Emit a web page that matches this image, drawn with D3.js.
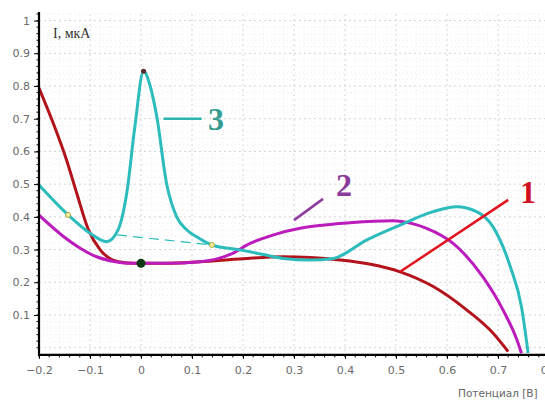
<!DOCTYPE html>
<html>
<head>
<meta charset="utf-8">
<script src="https://cdn.jsdelivr.net/npm/d3@7"></script>
<style>
  body { margin: 0; background: #fff; }
  svg { display: block; }
</style>
</head>
<body>
<script>
// curve 1 (dark red)
var x1 = [-0.2, -0.172, -0.146, -0.126, -0.103, -0.08, -0.055, -0.03, 0, 0.05, 0.116, 0.2, 0.278, 0.39, 0.45, 0.508, 0.573, 0.639, 0.69, 0.72]
var y1 = [0.794, 0.686, 0.574, 0.472, 0.36, 0.299, 0.268, 0.26, 0.258, 0.258, 0.263, 0.272, 0.278, 0.268, 0.255, 0.232, 0.187, 0.115, 0.045, -0.012]
// curve 2 (magenta)
var x2 = [-0.2, -0.152, -0.12, -0.087, -0.05, -0.02, 0.05, 0.116, 0.175, 0.214, 0.26, 0.312, 0.36, 0.41, 0.494, 0.53, 0.56, 0.612, 0.67, 0.71, 0.737, 0.746]
var y2 = [0.405, 0.34, 0.305, 0.278, 0.263, 0.258, 0.258, 0.263, 0.285, 0.319, 0.345, 0.365, 0.375, 0.382, 0.388, 0.38, 0.365, 0.319, 0.217, 0.115, 0.024, -0.017]
// curve 3 (teal)
var x3 = [-0.2, -0.143, -0.1, -0.067, -0.045, -0.028, -0.012, 0.005, 0.018, 0.031, 0.05, 0.07, 0.09, 0.109, 0.139, 0.194, 0.24, 0.279, 0.331, 0.377, 0.442, 0.508, 0.573, 0.619, 0.658, 0.69, 0.724, 0.746, 0.759]
var y3 = [0.497, 0.406, 0.35, 0.324, 0.36, 0.472, 0.676, 0.845, 0.8, 0.706, 0.503, 0.4, 0.36, 0.339, 0.314, 0.299, 0.285, 0.273, 0.268, 0.273, 0.329, 0.375, 0.416, 0.431, 0.416, 0.37, 0.248, 0.125, -0.016]
// dashed baseline under the peak
var baseX = [-0.047, 0.139]
var baseY = [0.345, 0.314]

var xTicks = [-0.2, -0.1, 0, 0.1, 0.2, 0.3, 0.4, 0.5, 0.6, 0.7, 0.8]
var yTicks = [0.1, 0.2, 0.3, 0.4, 0.5, 0.6, 0.7, 0.8, 0.9, 1]

var RED = '#b3141c'
var MAGENTA = '#bb1cbb'
var TEAL = '#2cbcbc'

var w = 545, h = 403
var svg = d3.select('body').append('svg').attr('width', w).attr('height', h)

var x = d3.scaleLinear().domain([-0.2, 0.8]).range([39, 549])
var y = d3.scaleLinear().domain([0, 1]).range([347.7, 20.6])
var yBottom = y(-0.022), yTop = y(1.02)

function zip(xs, ys){ return xs.map(function(d, i){ return [d, ys[i]] }) }

// grid
var grid = svg.append('g')
d3.range(-0.2, 0.801, 0.02).forEach(function(v){
  var major = Math.abs(Math.round(v * 10) - v * 10) < 1e-6
  grid.append('line')
    .attr('x1', x(v)).attr('x2', x(v)).attr('y1', yTop).attr('y2', yBottom)
    .attr('stroke', major ? '#d4d4d4' : '#ececec')
    .attr('stroke-dasharray', major ? '2,3' : '1,3')
})
d3.range(0, 1.021, 0.02).forEach(function(v){
  var major = Math.abs(Math.round(v * 10) - v * 10) < 1e-6
  grid.append('line')
    .attr('x1', x(-0.2)).attr('x2', w).attr('y1', y(v)).attr('y2', y(v))
    .attr('stroke', major ? '#d4d4d4' : '#ececec')
    .attr('stroke-dasharray', major ? '2,3' : '1,3')
})

// curves
var line = d3.line()
  .x(function(d){ return x(d[0]) })
  .y(function(d){ return y(d[1]) })
  .curve(d3.curveMonotoneX)

svg.append('defs').append('clipPath').attr('id', 'plot')
  .append('rect').attr('x', x(-0.2)).attr('y', yTop).attr('width', w).attr('height', yBottom - yTop)

var plot = svg.append('g').attr('clip-path', 'url(#plot)')

plot.append('path').datum(zip(baseX, baseY))
  .attr('d', line).attr('fill', 'none').attr('stroke', TEAL)
  .attr('stroke-width', 1.2).attr('stroke-dasharray', '10,6')

;[[x1, y1, RED], [x2, y2, MAGENTA], [x3, y3, TEAL]].forEach(function(s){
  plot.append('path').datum(zip(s[0], s[1]))
    .attr('d', line).attr('fill', 'none')
    .attr('stroke', s[2]).attr('stroke-width', 3)
    .attr('stroke-linejoin', 'round')
})

// markers
plot.append('circle').attr('cx', x(0.005)).attr('cy', y(0.845)).attr('r', 2.5).attr('fill', '#5a2a2a')
plot.append('circle').attr('cx', x(0)).attr('cy', y(0.258)).attr('r', 4.5).attr('fill', '#0d3a12')
;[[-0.143, 0.406], [0.139, 0.314]].forEach(function(p){
  plot.append('circle').attr('cx', x(p[0])).attr('cy', y(p[1])).attr('r', 2.5)
    .attr('fill', '#f4f0a0').attr('stroke', '#a8a840').attr('stroke-width', 1)
})

// axes
var yAxis = d3.axisLeft(y).tickValues(yTicks).tickSize(5).tickFormat(d3.format('.1~f'))
var gy = svg.append('g').attr('transform', 'translate(' + x(-0.2) + ',0)').call(yAxis)
gy.select('.domain').remove()
gy.selectAll('text').attr('fill', '#6a6a6a').attr('font-family', 'DejaVu Sans, sans-serif').attr('font-size', 11).attr('dx', -1)

var xAxis = d3.axisBottom(x).tickValues(xTicks).tickSize(4).tickFormat(function(d){ return d3.format('.1~f')(d) })
var gx = svg.append('g').attr('transform', 'translate(0,' + yBottom + ')').call(xAxis)
gx.select('.domain').remove()
gx.selectAll('text').attr('fill', '#6a6a6a').attr('font-family', 'DejaVu Sans, sans-serif').attr('font-size', 11).attr('dy', '1.1em')

// minor ticks
d3.range(-0.2, 0.801, 0.02).forEach(function(v){
  svg.append('line').attr('x1', x(v)).attr('x2', x(v)).attr('y1', yBottom).attr('y2', yBottom + 2.5).attr('stroke', '#000')
})
d3.range(0, 1.021, 0.02).forEach(function(v){
  svg.append('line').attr('x1', x(-0.2) - 2.5).attr('x2', x(-0.2)).attr('y1', y(v)).attr('y2', y(v)).attr('stroke', '#000')
})

svg.append('line').attr('x1', x(-0.2)).attr('x2', x(-0.2)).attr('y1', yTop - 2).attr('y2', yBottom + 1)
  .attr('stroke', '#000').attr('stroke-width', 2.2)
svg.append('line').attr('x1', x(-0.2)).attr('x2', w).attr('y1', yBottom).attr('y2', yBottom)
  .attr('stroke', '#000').attr('stroke-width', 2.2)

// axis titles
svg.append('text').attr('x', 53).attr('y', 38).text('I, мкА')
  .attr('font-family', 'Liberation Serif, serif').attr('font-size', 14).attr('fill', '#333')
svg.append('text').attr('x', 458).attr('y', 397).text('Потенциал [В]')
  .attr('font-family', 'DejaVu Sans, sans-serif').attr('font-size', 10.5).attr('fill', '#666')

// curve labels
function callout(xa, ya, xb, yb, lineColor, textColor, label, lx, ly){
  svg.append('line').attr('x1', xa).attr('y1', ya).attr('x2', xb).attr('y2', yb)
    .attr('stroke', lineColor).attr('stroke-width', 2.5)
  svg.append('text').attr('x', lx).attr('y', ly).text(label)
    .attr('font-family', 'Liberation Serif, serif').attr('font-weight', 'bold')
    .attr('font-size', 32).attr('fill', textColor).attr('text-anchor', 'middle')
}
callout(x(0.044), y(0.7), x(0.119), y(0.7), '#2cb4ae', '#359d90', '3', 216, 130)
callout(x(0.3), y(0.39), x(0.357), y(0.455), '#8e3d9e', '#8a3a9a', '2', 344, 196)
callout(x(0.508), y(0.232), x(0.72), y(0.452), '#e0141e', '#d01020', '1', 528, 203)
</script>
</body>
</html>
